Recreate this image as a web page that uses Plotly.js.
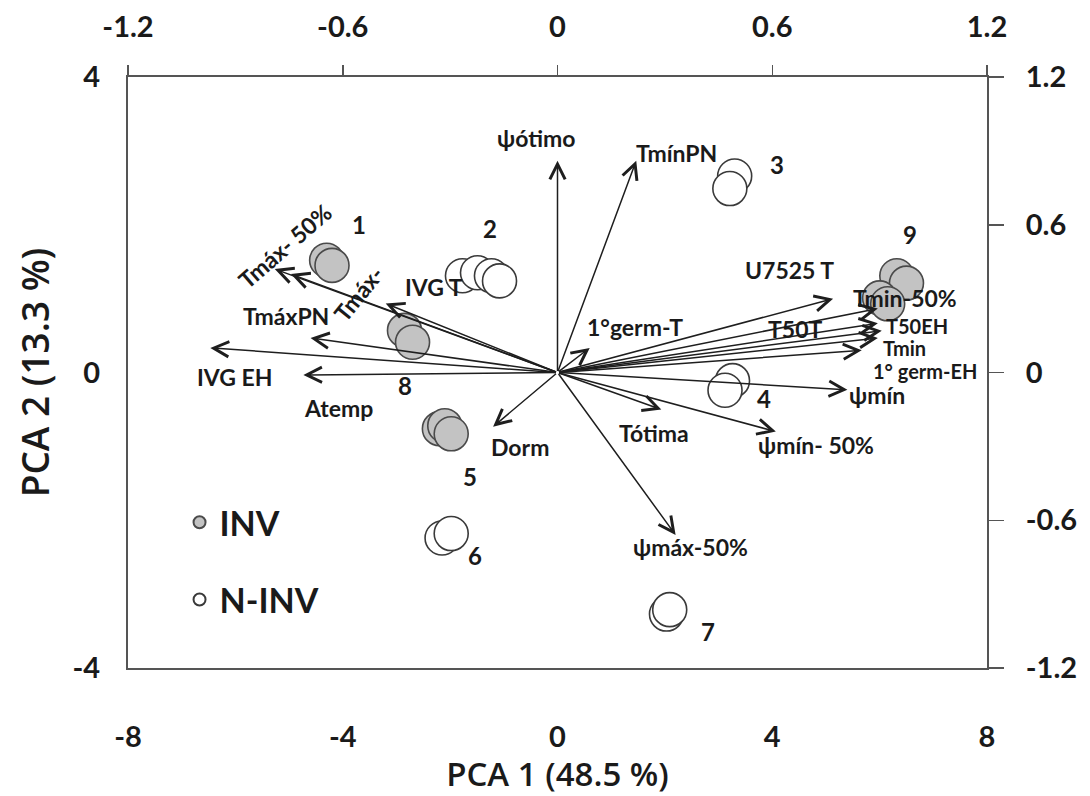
<!DOCTYPE html>
<html>
<head>
<meta charset="utf-8">
<script src="https://cdn.plot.ly/plotly-3.0.1.min.js"></script>
<style>html,body{margin:0;padding:0;background:#fff;}#chart{width:1090px;height:796px;}</style>
</head>
<body>
<div id="chart"></div>
<script>
// ---- Scores (PCA 1 / PCA 2) ----
const invX = [-4.3, -4.2, -2.85, -2.7, -2.2, -2.1, -1.98, 6.32, 6.5, 6.0, 6.15];
const invY = [1.52, 1.45, 0.57, 0.41, -0.76, -0.72, -0.83, 1.31, 1.21, 1.01, 0.93];
const invGroup = ['1', '1', '8', '8', '5', '5', '5', '9', '9', '9', '9'];
const ninvX = [-1.77, -1.49, -1.23, -1.08, 3.3, 3.21, 3.26, 3.12, -2.15, -1.98, 2.03, 2.09];
const ninvY = [1.31, 1.35, 1.31, 1.24, 2.66, 2.49, -0.11, -0.24, -2.24, -2.18, -3.27, -3.21];
const ninvGroup = ['2', '2', '2', '2', '3', '3', '4', '4', '6', '6', '7', '7'];

// ---- Loadings (top / right axes) ----
const varNames = ['ψótimo', 'TmínPN', 'Tmáx- 50%', 'Tmáx-', 'IVG T', 'TmáxPN', 'IVG EH', 'Atemp', 'Dorm', 'Tótima',
  'ψmín- 50%', 'ψmáx-50%', '1°germ-T', 'Tmin-50%', 'U7525 T', 'T50T', 'T50EH', 'Tmin', '1° germ-EH', 'ψmín'];
const loadX = [0.0, 0.22, -0.79, -0.745, -0.48, -0.69, -0.97, -0.71, -0.18, 0.29,
  0.61, 0.33, 0.09, 0.77, 0.895, 0.895, 0.906, 0.895, 0.85, 0.81];
const loadY = [0.86, 0.86, 0.42, 0.40, 0.28, 0.14, 0.10, -0.01, -0.22, -0.15,
  -0.24, -0.66, 0.10, 0.30, 0.26, 0.20, 0.17, 0.14, 0.09, -0.07];

// ---- Axis ticks ----
const bottomTicks = [-8, -4, 0, 4, 8];
const leftTicks = [-4, 0, 4];
const topTicks = [-1.2, -0.6, 0, 0.6, 1.2];
const rightTicks = [-1.2, -0.6, 0, 0.6, 1.2];

// label placement (pixel offsets from arrow tip), rotation, font size
const labelStyle = {
  'ψótimo': [-22, 23, 0, 23], 'TmínPN': [40, 8, 0, 23], 'Tmáx- 50%': [10, 23, -41, 23], 'Tmáx-': [68, -19, -51, 23],
  'IVG T': [48, 17, 0, 23], 'TmáxPN': [-25, 22, 0, 23], 'IVG EH': [25, -29, 0, 23], 'Atemp': [35, -33, 0, 23],
  'Dorm': [27, -20, 0, 23], 'Tótima': [-7, -24, 0, 23], 'ψmín- 50%': [40, -13, 0, 23], 'ψmáx-50%': [15, -12, 0, 23],
  '1°germ-T': [45, 21, 0, 23], 'Tmin-50%': [72, 1, 0, 23], 'U7525 T': [-88, 38, 0, 23], 'T50T': [-83, -6, 0, 23],
  'T50EH': [35, 5, 0, 20], 'Tmin': [27, -10, 0, 20], '1° germ-EH': [63, -21, 0, 20], 'ψmín': [30, -5, 0, 23]
};
const groupShift = {'1': [30, 38], '2': [7, 48], '3': [45, 18], '4': [35, -13], '5': [25, -47],
  '6': [28, -20], '7': [40, -20], '8': [-4, -49], '9': [17, 56]};

const TFONT = "Lato, 'Open Sans', sans-serif";
const TITLEFONT = "'Open Sans', Lato, sans-serif";
const TXT = '#1a1a1a';

const traces = [
  {x: invX, y: invY, type: 'scatter', mode: 'markers', name: 'INV', xaxis: 'x', yaxis: 'y',
   legendgroup: 'a',
   marker: {size: 34, color: '#c3c3c3', line: {color: '#4a4a4a', width: 1.6}}},
  {x: ninvX, y: ninvY, type: 'scatter', mode: 'markers', name: 'N-INV', xaxis: 'x', yaxis: 'y',
   legendgroup: 'b',
   marker: {size: 34, color: '#ffffff', line: {color: '#3a3a3a', width: 1.6}}},
  {x: [0], y: [0], type: 'scatter', mode: 'markers', xaxis: 'x2', yaxis: 'y2', showlegend: false,
   hoverinfo: 'skip', marker: {size: 1, color: 'rgba(0,0,0,0)'}}
];

const annotations = [];
varNames.forEach((n, i) => {
  annotations.push({xref: 'x2', yref: 'y2', axref: 'x2', ayref: 'y2', x: loadX[i], y: loadY[i], ax: 0, ay: 0,
    text: '', showarrow: true, arrowhead: 5, arrowsize: 2.0, arrowwidth: 1.5, arrowcolor: '#1e1e1e', standoff: 0});
});
varNames.forEach((n, i) => {
  const s = labelStyle[n];
  annotations.push({xref: 'x2', yref: 'y2', x: loadX[i], y: loadY[i], text: n, showarrow: false,
    xshift: s[0], yshift: s[1], textangle: s[2], font: {family: TFONT, size: s[3], weight: 'bold', color: TXT}});
});
function centroids(xs, ys, gs) {
  const m = {};
  gs.forEach((g, i) => { m[g] = m[g] || [0, 0, 0]; m[g][0] += xs[i]; m[g][1] += ys[i]; m[g][2]++; });
  return m;
}
const allC = Object.assign({}, centroids(invX, invY, invGroup), centroids(ninvX, ninvY, ninvGroup));
Object.keys(allC).forEach(g => {
  const c = allC[g];
  annotations.push({xref: 'x', yref: 'y', x: c[0] / c[2], y: c[1] / c[2], text: g,
    showarrow: false, xshift: groupShift[g][0], yshift: groupShift[g][1],
    font: {family: TFONT, size: 24, weight: 'bold', color: TXT}});
});

const axisCommon = {showgrid: false, zeroline: false, showline: true, linecolor: '#555', linewidth: 2,
  tickfont: {family: TFONT, size: 29, weight: 'bold', color: TXT}, tickcolor: '#555', tickwidth: 1.5,
  fixedrange: true};

const layout = {
  width: 1090, height: 796,
  margin: {l: 128, r: 103, t: 77, b: 128, pad: 0},
  paper_bgcolor: '#fff', plot_bgcolor: '#fff',
  showlegend: true,
  legend: {x: 0.06, y: 0.295, xanchor: 'left', yanchor: 'top', bgcolor: 'rgba(0,0,0,0)',
    font: {family: TFONT, size: 34, weight: 'bold', color: TXT}, tracegroupgap: 30,
    traceorder: 'grouped', itemsizing: 'constant'},
  xaxis: Object.assign({}, axisCommon, {range: [-8, 8], tickvals: bottomTicks, ticktext: bottomTicks.map(String),
    ticks: '', ticklabelstandoff: 42, side: 'bottom',
    title: {text: 'PCA 1 (48.5 %)', font: {family: TITLEFONT, size: 33, weight: 600, color: TXT}, standoff: 6}}),
  yaxis: Object.assign({}, axisCommon, {range: [-4, 4], tickvals: leftTicks, ticktext: leftTicks.map(String),
    ticks: '', ticklabelstandoff: 20, side: 'left',
    title: {text: 'PCA 2 (13.3 %)', font: {family: TITLEFONT, size: 37, weight: 600, color: TXT}, standoff: 12}}),
  xaxis2: Object.assign({}, axisCommon, {range: [-1.2, 1.2], tickvals: topTicks, ticktext: topTicks.map(String),
    overlaying: 'x', side: 'top', ticks: 'outside', ticklen: 10, ticklabelstandoff: 16}),
  yaxis2: Object.assign({}, axisCommon, {range: [-1.2, 1.2], tickvals: rightTicks, ticktext: rightTicks.map(String),
    overlaying: 'y', side: 'right', ticks: 'outside', ticklen: 15, ticklabelstandoff: 16}),
  annotations: annotations
};

Plotly.newPlot('chart', traces, layout, {displayModeBar: false, staticPlot: true});
</script>
</body>
</html>
